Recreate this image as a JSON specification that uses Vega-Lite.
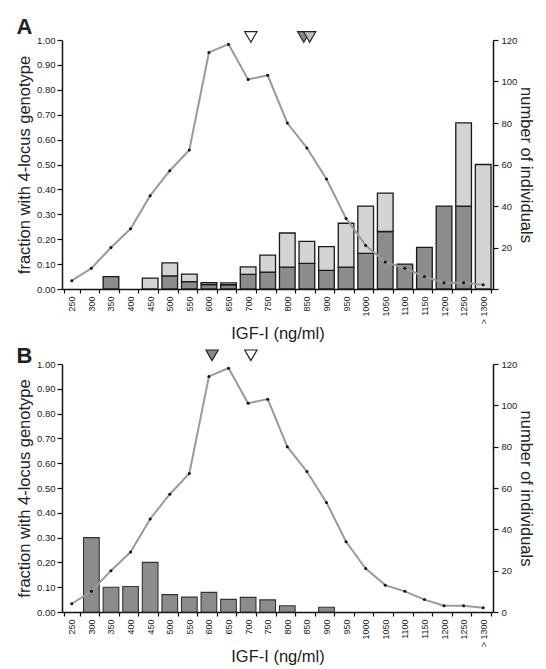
{
  "$schema": "https://vega.github.io/schema/vega-lite/v6.json",
  "padding": {"left": 16, "top": 16, "right": 5, "bottom": 5},
  "spacing": 1,
  "config": {
    "view": {"stroke": null},
    "font": "Liberation Sans",
    "axis": {
      "grid": false,
      "domainColor": "#111",
      "domainWidth": 1.5,
      "tickColor": "#111",
      "tickWidth": 1.2,
      "tickSize": 5,
      "labelFont": "Liberation Sans",
      "labelFontSize": 9.5,
      "labelColor": "#222",
      "labelPadding": 2,
      "titleFont": "Liberation Sans",
      "titleFontSize": 16.5,
      "titleFontWeight": "normal",
      "titleColor": "#222"
    },
    "title": {"font": "Liberation Sans", "fontSize": 22, "fontWeight": "bold", "color": "#222", "anchor": "start", "frame": "bounds"}
  },
  "datasets": {
    "fracA": [
      {"igf": "350", "part": "dark", "ord": 1, "frac": 0.05},
      {"igf": "450", "part": "light", "ord": 2, "frac": 0.044},
      {"igf": "500", "part": "dark", "ord": 1, "frac": 0.053},
      {"igf": "500", "part": "light", "ord": 2, "frac": 0.052},
      {"igf": "550", "part": "dark", "ord": 1, "frac": 0.03},
      {"igf": "550", "part": "light", "ord": 2, "frac": 0.03},
      {"igf": "600", "part": "dark", "ord": 1, "frac": 0.018},
      {"igf": "600", "part": "light", "ord": 2, "frac": 0.008},
      {"igf": "650", "part": "dark", "ord": 1, "frac": 0.017},
      {"igf": "650", "part": "light", "ord": 2, "frac": 0.008},
      {"igf": "700", "part": "dark", "ord": 1, "frac": 0.059},
      {"igf": "700", "part": "light", "ord": 2, "frac": 0.03},
      {"igf": "750", "part": "dark", "ord": 1, "frac": 0.068},
      {"igf": "750", "part": "light", "ord": 2, "frac": 0.068},
      {"igf": "800", "part": "dark", "ord": 1, "frac": 0.0875},
      {"igf": "800", "part": "light", "ord": 2, "frac": 0.1375},
      {"igf": "850", "part": "dark", "ord": 1, "frac": 0.103},
      {"igf": "850", "part": "light", "ord": 2, "frac": 0.088},
      {"igf": "900", "part": "dark", "ord": 1, "frac": 0.075},
      {"igf": "900", "part": "light", "ord": 2, "frac": 0.095},
      {"igf": "950", "part": "dark", "ord": 1, "frac": 0.088},
      {"igf": "950", "part": "light", "ord": 2, "frac": 0.176},
      {"igf": "1000", "part": "dark", "ord": 1, "frac": 0.143},
      {"igf": "1000", "part": "light", "ord": 2, "frac": 0.19},
      {"igf": "1050", "part": "dark", "ord": 1, "frac": 0.231},
      {"igf": "1050", "part": "light", "ord": 2, "frac": 0.154},
      {"igf": "1100", "part": "dark", "ord": 1, "frac": 0.1},
      {"igf": "1150", "part": "dark", "ord": 1, "frac": 0.167},
      {"igf": "1200", "part": "dark", "ord": 1, "frac": 0.333},
      {"igf": "1250", "part": "dark", "ord": 1, "frac": 0.333},
      {"igf": "1250", "part": "light", "ord": 2, "frac": 0.334},
      {"igf": "> 1300", "part": "light", "ord": 2, "frac": 0.5}
    ],
    "fracB": [
      {"igf": "300", "part": "dark", "frac": 0.3},
      {"igf": "350", "part": "dark", "frac": 0.1},
      {"igf": "400", "part": "dark", "frac": 0.103},
      {"igf": "450", "part": "dark", "frac": 0.2},
      {"igf": "500", "part": "dark", "frac": 0.07},
      {"igf": "550", "part": "dark", "frac": 0.06},
      {"igf": "600", "part": "dark", "frac": 0.079},
      {"igf": "650", "part": "dark", "frac": 0.051},
      {"igf": "700", "part": "dark", "frac": 0.059},
      {"igf": "750", "part": "dark", "frac": 0.049},
      {"igf": "800", "part": "dark", "frac": 0.025},
      {"igf": "900", "part": "dark", "frac": 0.019}
    ],
    "counts": [
      {"igf": "250", "n": 4},
      {"igf": "300", "n": 10},
      {"igf": "350", "n": 20},
      {"igf": "400", "n": 29},
      {"igf": "450", "n": 45},
      {"igf": "500", "n": 57},
      {"igf": "550", "n": 67},
      {"igf": "600", "n": 114},
      {"igf": "650", "n": 118},
      {"igf": "700", "n": 101},
      {"igf": "750", "n": 103},
      {"igf": "800", "n": 80},
      {"igf": "850", "n": 68},
      {"igf": "900", "n": 53},
      {"igf": "950", "n": 34},
      {"igf": "1000", "n": 21},
      {"igf": "1050", "n": 13},
      {"igf": "1100", "n": 10},
      {"igf": "1150", "n": 6},
      {"igf": "1200", "n": 3},
      {"igf": "1250", "n": 3},
      {"igf": "> 1300", "n": 2}
    ],
    "markA": [
      {"igf": 707, "kind": "white"},
      {"igf": 857, "kind": "light"},
      {"igf": 842, "kind": "dark"}
    ],
    "markB": [
      {"igf": 608, "kind": "dark"},
      {"igf": 707, "kind": "white"}
    ]
  },
  "vconcat": [
    {
      "width": 431,
      "height": 249,
      "title": {"text": "A", "offset": -10},
      "layer": [
        {
          "data": {"name": "fracA"},
          "mark": {"type": "bar", "stroke": "#1a1a1a", "strokeWidth": 1.3},
          "encoding": {
            "x": {"field": "igf", "type": "ordinal",
                  "scale": {"domain": ["250","300","350","400","450","500","550","600","650","700","750","800","850","900","950","1000","1050","1100","1150","1200","1250","> 1300"], "paddingInner": 0.2, "paddingOuter": 0.1},
                  "axis": {"title": "IGF-I (ng/ml)", "labelAngle": -90, "labelFontSize": 9, "tickBand": "extent", "tickSize": 4, "labelPadding": 3, "titlePadding": 2}},
            "y": {"field": "frac", "type": "quantitative", "stack": "zero",
                  "scale": {"domain": [0, 1], "nice": false},
                  "axis": {"title": "fraction with 4-locus genotype", "orient": "left", "values": [0,0.1,0.2,0.3,0.4,0.5,0.6,0.7,0.8,0.9,1.0], "format": ".2f", "titlePadding": 4}},
            "order": {"field": "ord"},
            "color": {"field": "part", "type": "nominal", "scale": {"domain": ["dark","light"], "range": ["#8c8c8c","#d4d4d4"]}, "legend": null}
          }
        },
        {
          "data": {"name": "counts"},
          "encoding": {
            "x": {"field": "igf", "type": "ordinal",
                  "scale": {"domain": ["250","300","350","400","450","500","550","600","650","700","750","800","850","900","950","1000","1050","1100","1150","1200","1250","> 1300"], "paddingInner": 0.2, "paddingOuter": 0.1},
                  "axis": null},
            "y": {"field": "n", "type": "quantitative",
                  "scale": {"domain": [0, 120], "nice": false},
                  "axis": {"title": "number of individuals", "orient": "right", "values": [0,20,40,60,80,100,120], "labelExpr": "datum.value == 0 ? '' : datum.label", "labelPadding": 3, "titlePadding": 1}}
          },
          "layer": [
            {"mark": {"type": "line", "color": "#9a9a9a", "strokeWidth": 2}},
            {"mark": {"type": "point", "filled": true, "color": "#111", "size": 9, "opacity": 1}}
          ]
        },
        {
          "data": {"name": "markA"},
          "mark": {"type": "point", "shape": "triangle-down", "filled": true, "size": 150, "stroke": "#222", "strokeWidth": 1.2, "opacity": 1},
          "encoding": {
            "x": {"field": "igf", "type": "quantitative", "scale": {"domain": [225, 1325], "nice": false, "zero": false}, "axis": null},
            "y": {"datum": 1.012, "type": "quantitative", "scale": {"domain": [0, 1], "nice": false}, "axis": null},
            "fill": {"field": "kind", "type": "nominal", "scale": {"domain": ["white","dark","light"], "range": ["#ffffff","#8a8a8a","#bdbdbd"]}, "legend": null},
            "order": {"field": "kind"}
          }
        }
      ],
      "resolve": {"scale": {"x": "independent", "y": "independent", "fill": "independent", "color": "independent"}}
    },
    {
      "width": 431,
      "height": 248,
      "title": {"text": "B", "offset": -20},
      "layer": [
        {
          "data": {"name": "fracB"},
          "mark": {"type": "bar", "stroke": "#333", "strokeWidth": 1.1, "color": "#8c8c8c"},
          "encoding": {
            "x": {"field": "igf", "type": "ordinal",
                  "scale": {"domain": ["250","300","350","400","450","500","550","600","650","700","750","800","850","900","950","1000","1050","1100","1150","1200","1250","> 1300"], "paddingInner": 0.2, "paddingOuter": 0.1},
                  "axis": {"title": "IGF-I (ng/ml)", "labelAngle": -90, "labelFontSize": 9, "tickBand": "extent", "tickSize": 4, "labelPadding": 3, "titlePadding": 2}},
            "y": {"field": "frac", "type": "quantitative",
                  "scale": {"domain": [0, 1], "nice": false},
                  "axis": {"title": "fraction with 4-locus genotype", "orient": "left", "values": [0,0.1,0.2,0.3,0.4,0.5,0.6,0.7,0.8,0.9,1.0], "format": ".2f", "titlePadding": 4}}
          }
        },
        {
          "data": {"name": "counts"},
          "encoding": {
            "x": {"field": "igf", "type": "ordinal",
                  "scale": {"domain": ["250","300","350","400","450","500","550","600","650","700","750","800","850","900","950","1000","1050","1100","1150","1200","1250","> 1300"], "paddingInner": 0.2, "paddingOuter": 0.1},
                  "axis": null},
            "y": {"field": "n", "type": "quantitative",
                  "scale": {"domain": [0, 120], "nice": false},
                  "axis": {"title": "number of individuals", "orient": "right", "values": [0,20,40,60,80,100,120], "labelPadding": 3, "titlePadding": 1}}
          },
          "layer": [
            {"mark": {"type": "line", "color": "#9a9a9a", "strokeWidth": 2}},
            {"mark": {"type": "point", "filled": true, "color": "#111", "size": 9, "opacity": 1}}
          ]
        },
        {
          "data": {"name": "markB"},
          "mark": {"type": "point", "shape": "triangle-down", "filled": true, "size": 150, "stroke": "#222", "strokeWidth": 1.2, "opacity": 1},
          "encoding": {
            "x": {"field": "igf", "type": "quantitative", "scale": {"domain": [225, 1325], "nice": false, "zero": false}, "axis": null},
            "y": {"datum": 1.035, "type": "quantitative", "scale": {"domain": [0, 1], "nice": false}, "axis": null},
            "fill": {"field": "kind", "type": "nominal", "scale": {"domain": ["white","dark","light"], "range": ["#ffffff","#8a8a8a","#bdbdbd"]}, "legend": null}
          }
        }
      ],
      "resolve": {"scale": {"x": "independent", "y": "independent", "fill": "independent"}}
    }
  ]
}
